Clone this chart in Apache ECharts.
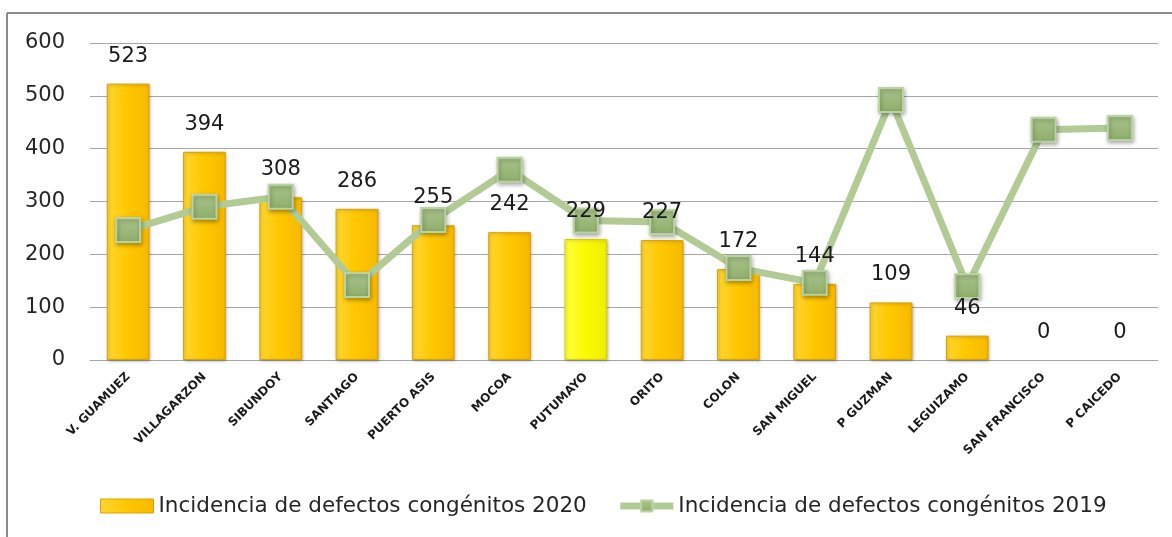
<!DOCTYPE html>
<html>
<head>
<meta charset="utf-8">
<script src="https://cdn.jsdelivr.net/npm/echarts@6/dist/echarts.min.js"></script>
<style>
html,body{margin:0;padding:0;background:#fff;}
#c{width:1172px;height:537px;}
</style>
</head>
<body>
<div id="c"></div>
<script>
const categories = ['V. GUAMUEZ','VILLAGARZON','SIBUNDOY','SANTIAGO','PUERTO ASIS','MOCOA','PUTUMAYO','ORITO','COLON','SAN MIGUEL','P GUZMAN','LEGUIZAMO','SAN FRANCISCO','P CAICEDO'];
const values2020 = [523,394,308,286,255,242,229,227,172,144,109,46,0,0];
const values2019 = [246,290,309,142,265,360,264,261,174,146,492,140,436,439];
const yTicks = [0,100,200,300,400,500,600];
const highlightCategory = 'PUTUMAYO';

const FONT = 'DejaVu Sans';
const goldGrad = new echarts.graphic.LinearGradient(0,0,1,0,[
  {offset:0,color:'#FFD633'},{offset:0.45,color:'#FFC800'},{offset:1,color:'#F7B900'}]);
const yellowGrad = new echarts.graphic.LinearGradient(0,0,1,0,[
  {offset:0,color:'#FFFF40'},{offset:0.5,color:'#FAFA00'},{offset:1,color:'#F0EE00'}]);
const markerGrad = new echarts.graphic.LinearGradient(0,0,0,1,[
  {offset:0,color:'#A9C48B'},{offset:1,color:'#8EAE6B'}]);

const barData = values2020.map((v,i)=>({
  value:v,
  itemStyle: v === 0 ? {borderWidth:0, shadowBlur:0, shadowOffsetX:0, shadowOffsetY:0, color:'transparent'} : {
    color: categories[i]===highlightCategory ? yellowGrad : goldGrad,
    borderColor: categories[i]===highlightCategory ? '#D8D000' : '#D9A300'}
}));

const chart = echarts.init(document.getElementById('c'));
chart.setOption({
  animation:false,
  backgroundColor:'#fff',
  graphic:[
    {type:'line',shape:{x1:7,y1:13,x2:1172,y2:13},style:{stroke:'#8C8C8C',lineWidth:2}},
    {type:'line',shape:{x1:7,y1:13,x2:7,y2:537},style:{stroke:'#8C8C8C',lineWidth:2}}
  ],
  grid:{left:90,right:14,top:43,bottom:177,containLabel:false},
  legend:{
    left:100, top:495, padding:0, itemGap:30, itemWidth:53, itemHeight:14,
    textStyle:{fontFamily:FONT,fontSize:21.5,color:'#262626'},
    data:[
      {name:'Incidencia de defectos congénitos 2020',icon:'rect',itemStyle:{color:goldGrad,borderColor:'#D9A300',borderWidth:1}},
      {name:'Incidencia de defectos congénitos 2019',lineStyle:{width:7,color:'#B2CB94'}}
    ]
  },
  xAxis:{
    type:'category', data:categories,
    axisLine:{lineStyle:{color:'#A6A6A6',width:1}},
    axisTick:{show:false},
    axisLabel:{interval:0,rotate:45,margin:15,fontFamily:FONT,fontSize:12,fontWeight:'bold',color:'#1a1a1a'}
  },
  yAxis:{
    type:'value', min:yTicks[0], max:yTicks[yTicks.length-1], interval:100,
    axisLine:{show:false}, axisTick:{show:false},
    splitLine:{lineStyle:{color:'#A6A6A6',width:1}},
    axisLabel:{margin:25,fontFamily:FONT,fontSize:21,color:'#262626'}
  },
  series:[
    {
      name:'Incidencia de defectos congénitos 2020', type:'bar', data:barData,
      barWidth:'56%', barGap:'-100%', z:2,
      itemStyle:{borderWidth:1, shadowColor:'rgba(0,0,0,0.25)', shadowBlur:3, shadowOffsetX:1, shadowOffsetY:1},
      label:{show:false}
    },
    {
      name:'Incidencia de defectos congénitos 2019', type:'line', data:values2019, z:3,
      symbol:'rect', symbolSize:24,
      lineStyle:{color:'#B2CB94',width:7},
      itemStyle:{color:markerGrad,borderColor:'#BBD2A2',borderWidth:2,shadowColor:'rgba(0,0,0,0.3)',shadowBlur:4,shadowOffsetX:1,shadowOffsetY:2},
      label:{show:false}
    },
    {
      name:'labels2020', type:'bar', data:values2020, barWidth:'56%', barGap:'-100%', z:10, silent:true,
      itemStyle:{color:'transparent'},
      label:{show:true, position:'top', distance:17, fontFamily:FONT, fontSize:21, color:'#1a1a1a'}
    }
  ]
});
</script>
</body>
</html>
